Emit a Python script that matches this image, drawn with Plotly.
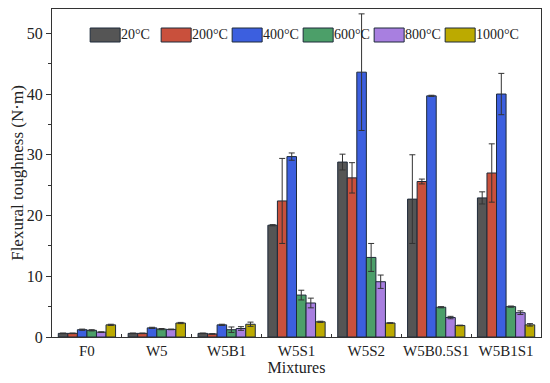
import plotly.graph_objects as go

mixtures = ["F0", "W5", "W5B1", "W5S1", "W5S2", "W5B0.5S1", "W5B1S1"]
temps = ["20°C", "200°C", "400°C", "600°C", "800°C", "1000°C"]

v20 = [0.6, 0.6, 0.6, 18.4, 28.8, 22.7, 22.9]
v200 = [0.6, 0.6, 0.5, 22.4, 26.2, 25.6, 27.0]
v400 = [1.2, 1.5, 2.0, 29.7, 43.6, 39.7, 40.0]
v600 = [1.1, 1.3, 1.2, 6.9, 13.1, 4.9, 5.0]
v800 = [0.8, 1.25, 1.4, 5.6, 9.1, 3.2, 4.0]
v1000 = [2.0, 2.3, 2.1, 2.5, 2.3, 1.9, 2.0]

e20 = [0.05, 0.05, 0.05, 0.1, 1.3, 7.3, 1.0]
e200 = [0.05, 0.05, 0.05, 7.0, 2.5, 0.4, 4.8]
e400 = [0.1, 0.1, 0.1, 0.6, 9.6, 0.1, 3.4]
e600 = [0.1, 0.1, 0.45, 0.8, 2.3, 0.1, 0.1]
e800 = [0.05, 0.05, 0.3, 0.8, 1.1, 0.2, 0.3]
e1000 = [0.1, 0.1, 0.35, 0.1, 0.05, 0.05, 0.2]

series = [v20, v200, v400, v600, v800, v1000]
errors = [e20, e200, e400, e600, e800, e1000]
colors = ["#555555", "#c9503c", "#3c5fdf", "#4c9f69", "#a87fe0", "#bcaa00"]

font = "Liberation Serif"
fig = go.Figure()
for name, vals, errs, col in zip(temps, series, errors, colors):
    fig.add_trace(go.Bar(
        x=mixtures, y=vals, name=name,
        marker=dict(color=col, line=dict(color="#1e2a3a", width=1)),
        error_y=dict(type="data", array=errs, visible=True,
                     color="#333333", thickness=1, width=3),
        showlegend=False,
    ))

# legend drawn as swatches + labels
shapes = []
annotations = []
x0 = 0.078
step = 71 / 489
sw = 30 / 489
for i, (name, col) in enumerate(zip(temps, colors)):
    xs = x0 + i * step
    shapes.append(dict(type="rect", xref="paper", yref="paper",
                       x0=xs, x1=xs + sw, y0=(336 - 41) / 328, y1=(336 - 27) / 328,
                       fillcolor=col, line=dict(color="#1e2a3a", width=1)))
    annotations.append(dict(xref="paper", yref="paper", x=xs + sw, y=(336 - 34) / 328,
                            text=name, showarrow=False, xanchor="left", yanchor="middle",
                            xshift=-1, font=dict(family=font, size=14, color="#222")))

# page body has an 8px margin, so the figure is shifted by (8, 8)
fig.update_layout(
    width=542, height=375,
    margin=dict(l=44, r=9, t=1, b=46, autoexpand=False),
    paper_bgcolor="white", plot_bgcolor="white",
    barmode="group", bargap=0.18, bargroupgap=0,
    font=dict(family=font, size=15, color="#222"),
    shapes=shapes, annotations=annotations,
)
fig.update_xaxes(
    title=dict(text="Mixtures", font=dict(family=font, size=16), standoff=2),
    showline=True, linecolor="#333", linewidth=1, mirror=True,
    ticks="inside", ticklen=3, tickson="boundaries", tickcolor="#333",
    tickfont=dict(family=font, size=15), showgrid=False, tickangle=0,
)
fig.update_yaxes(
    title=dict(text="Flexural toughness (N·m)", font=dict(family=font, size=17), standoff=6),
    range=[0, 54], dtick=10, showline=True, linecolor="#333", linewidth=1, mirror=True,
    ticks="outside", ticklen=5, tickcolor="#333", showgrid=False, zeroline=False,
    tickfont=dict(family=font, size=16),
    minor=dict(dtick=5, ticks="outside", ticklen=3, tickcolor="#333", showgrid=False),
)
fig.write_html("out.html")
